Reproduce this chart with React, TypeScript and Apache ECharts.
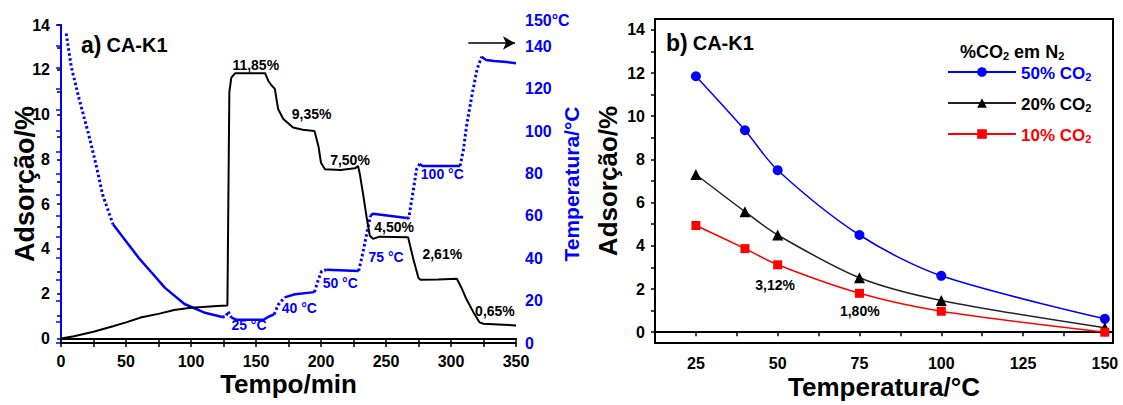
import React, { useEffect, useRef } from "react";
import * as echarts from "echarts";

const FONT = "'Liberation Sans', Arial, sans-serif";
const BLUE = "#0000ff";
const RED = "#ff0000";
const BLACK = "#000000";

// ---------- Panel a: adsorption vs time ----------
const adsTime = [0, 10, 25, 40, 50, 62, 75, 87, 100, 112, 120, 128, 128.7, 129.5, 131, 134, 157, 159.5, 162, 164.5, 167, 171, 178.5, 186, 195, 198, 200, 203, 215, 226, 228.5, 230, 232.5, 235, 237.5, 240, 245, 267, 271, 275, 276.5, 290, 304.5, 308, 312, 317, 322, 325, 340, 350];
const adsValue = [0, 0.1, 0.3, 0.55, 0.72, 0.95, 1.1, 1.27, 1.37, 1.42, 1.45, 1.48, 6, 11, 11.65, 11.85, 11.85, 11.5, 11.3, 11.15, 10.25, 9.8, 9.42, 9.32, 9.27, 8.6, 7.85, 7.56, 7.52, 7.6, 7.7, 7.3, 6.4, 5.45, 4.6, 4.45, 4.55, 4.52, 3.55, 2.7, 2.62, 2.64, 2.67, 2.27, 1.74, 1.2, 0.72, 0.66, 0.62, 0.58];

// temperature vs time (right axis)
const tempTime = [4, 8, 14, 21, 27, 32, 40, 50, 60, 70, 80, 95, 110, 124, 127, 128.5, 131, 135, 156, 160, 164, 167, 172, 180, 195, 197.5, 200.5, 204, 229, 232, 235, 238, 240, 266, 267.5, 271, 273.5, 276, 278, 307, 309.5, 312, 316, 320, 323.5, 327, 333, 343, 350];
const tempValue = [146, 130, 115, 99, 84, 70, 56, 48, 40, 33, 26, 18.4, 14.4, 12.3, 12.5, 15, 12, 11, 11, 12.5, 13.5, 18, 21.5, 23, 24, 29, 34, 34.5, 34, 42, 51, 60, 61, 59, 59, 72, 82, 84.5, 83.5, 83.5, 91, 102.5, 116.5, 129, 135, 133.5, 133, 132.5, 132];
// time ranges where the temperature trace is drawn dotted (fast ramps)
const tempDottedRanges = [[4, 40], [124, 131], [164, 172], [195, 204], [229, 238], [266, 276], [307, 323.5]];

const adsLabelText = ["11,85%", "9,35%", "7,50%", "4,50%", "2,61%", "0,65%"];
const adsLabelT = [149.8, 192.8, 222.3, 256.2, 293.3, 333.8];
const adsLabelV = [12.2, 10.02, 7.97, 4.96, 3.76, 1.22];

const tempLabelText = ["25 °C", "40 °C", "50 °C", "75 °C", "100 °C"];
const tempLabelT = [144.6, 183.3, 214.8, 250, 293.3];
const tempLabelV = [8.7, 16.6, 28.1, 40.6, 79.8];

const arrowT = [313.3, 349.2];
const arrowTemp = 141.5;

// ---------- Panel b: adsorption vs temperature ----------
const tempsB = [25, 40, 50, 75, 100, 150];
const co2_50 = [11.85, 9.35, 7.5, 4.5, 2.61, 0.62];
const co2_20 = [7.3, 5.58, 4.5, 2.52, 1.47, 0.21];
const co2_10 = [4.94, 3.87, 3.12, 1.8, 0.97, 0.0];
const seriesNamesB = ["50% CO2", "20% CO2", "10% CO2"];

const bLabelText = ["3,12%", "1,80%"];
const bLabelX = [49.2, 75.1];
const bLabelY = [2.2, 0.98];

const yTicksA = [0, 1, 2, 3, 4, 5, 6, 7, 8, 9, 10, 11, 12, 13, 14];
const yLabelsA = [0, 2, 4, 6, 8, 10, 12, 14];

function splitTemp() {
  const isDotted = (a: number, b: number) =>
    tempDottedRanges.some(([s, e]) => a >= s - 1e-9 && b <= e + 1e-9);
  const solid: any[] = [];
  const dotted: any[] = [];
  const push = (arr: any[], i: number) => {
    const last = arr[arr.length - 1];
    if (!last || last[0] !== tempTime[i] || last[1] === "-") arr.push([tempTime[i], tempValue[i]]);
  };
  for (let i = 0; i < tempTime.length - 1; i++) {
    const d = isDotted(tempTime[i], tempTime[i + 1]);
    const target = d ? dotted : solid;
    const other = d ? solid : dotted;
    push(target, i);
    target.push([tempTime[i + 1], tempValue[i + 1]]);
    const lo = other[other.length - 1];
    if (lo && lo[1] !== "-") other.push([tempTime[i], "-"]);
  }
  return { solid, dotted };
}

const bold = (size: number, color = BLACK) => ({
  fontFamily: FONT,
  fontWeight: "bold" as const,
  fontSize: size,
  color,
});

const annLabel = (color: string) => ({
  show: true,
  position: "inside",
  formatter: (p: any) => p.name,
  ...bold(14, color),
  opacity: 1,
  textBorderWidth: 0,
  textBorderColor: "transparent",
});

export default function App() {
  const ref = useRef<HTMLDivElement>(null);
  useEffect(() => {
    if (!ref.current) return;
    const chart = echarts.init(ref.current, undefined, { renderer: "svg" });
    const { solid, dotted } = splitTemp();

    const annSeries = (name: string, xi: number, yi: number, data: any[], color: string) => ({
      name,
      type: "scatter",
      xAxisIndex: xi,
      yAxisIndex: yi,
      symbolSize: 1,
      silent: true,
      itemStyle: { opacity: 1, color: "rgba(0,0,0,0)" },
      data,
      label: annLabel(color),
      z: 5,
    });

    const option: any = {
      animation: false,
      backgroundColor: "#ffffff",
      textStyle: { fontFamily: FONT },
      title: [
        {
          left: 76,
          top: 28,
          text: "{a|a)} {b|CA-K1}",
          textStyle: { rich: { a: bold(23), b: bold(20) } },
        },
        {
          left: 661,
          top: 26,
          text: "{a|b)} {b|CA-K1}",
          textStyle: { rich: { a: bold(23), b: bold(20) } },
        },
        {
          left: 955,
          top: 34,
          text: "{n|%CO}{s|2}{n| em N}{s|2}",
          textStyle: {
            rich: {
              n: { ...bold(18), lineHeight: 22, verticalAlign: "bottom" },
              s: { ...bold(11), lineHeight: 15, verticalAlign: "bottom" },
            },
          },
        },
      ],
      legend: {
        orient: "vertical",
        left: 942,
        top: 60,
        itemWidth: 68,
        itemHeight: 12,
        itemGap: 14,
        data: seriesNamesB,
        formatter: (name: string) => {
          const k = name.startsWith("50") ? "b" : name.startsWith("20") ? "k" : "r";
          return `{${k}|${name.slice(0, -1)}}{${k}s|2}`;
        },
        textStyle: {
          padding: [0, 0, 0, 0],
          rich: {
            b: { ...bold(17, BLUE), lineHeight: 20, verticalAlign: "bottom" },
            bs: { ...bold(11, BLUE), lineHeight: 14, verticalAlign: "bottom" },
            k: { ...bold(17, BLACK), lineHeight: 20, verticalAlign: "bottom" },
            ks: { ...bold(11, BLACK), lineHeight: 14, verticalAlign: "bottom" },
            r: { ...bold(17, RED), lineHeight: 20, verticalAlign: "bottom" },
            rs: { ...bold(11, RED), lineHeight: 14, verticalAlign: "bottom" },
          },
        },
      },
      grid: [
        { left: 61, top: 25, width: 455, height: 318 },
        { left: 655, top: 19, width: 458, height: 329, show: true, borderColor: BLACK, borderWidth: 2, backgroundColor: "transparent" },
      ],
      xAxis: [
        {
          gridIndex: 0,
          type: "value",
          min: 0,
          max: 350,
          interval: 25,
          position: "bottom",
          axisLine: { lineStyle: { color: BLACK, width: 2 } },
          axisTick: { length: 4, lineStyle: { color: BLACK, width: 1.5 } },
          axisLabel: {
            ...bold(16),
            margin: 10,
            formatter: (v: number) => (v % 50 === 0 ? String(v) : ""),
          },
          splitLine: { show: false },
          name: "Tempo/min",
          nameLocation: "middle",
          nameGap: 28,
          nameMoveOverlap: false,
          nameTextStyle: bold(26),
        },
        {
          gridIndex: 0,
          type: "value",
          min: 0,
          max: 350,
          interval: 25,
          position: "top",
          axisLine: { lineStyle: { color: BLACK, width: 2 } },
          axisTick: { inside: true, length: 4, lineStyle: { color: BLACK, width: 1.5 } },
          axisLabel: { show: false },
          splitLine: { show: false },
        },
        {
          gridIndex: 1,
          type: "value",
          min: 12.5,
          max: 152.5,
          interval: 12.5,
          axisLine: { lineStyle: { color: BLACK, width: 2 } },
          axisTick: { length: 4, lineStyle: { color: BLACK, width: 1.5 } },
          axisLabel: {
            ...bold(16),
            margin: 12,
            formatter: (v: number) => (v % 25 === 0 ? String(v) : ""),
          },
          splitLine: { show: false },
          name: "Temperatura/°C",
          nameLocation: "middle",
          nameGap: 31,
          nameMoveOverlap: false,
          nameTextStyle: bold(26),
        },
      ],
      yAxis: [
        {
          gridIndex: 0,
          type: "value",
          min: -0.2,
          max: 14,
          position: "left",
          axisLine: { show: true, lineStyle: { color: BLACK, width: 2 } },
          axisTick: { show: true, length: 4, customValues: yTicksA, lineStyle: { color: BLACK, width: 1.5 } },
          axisLabel: { ...bold(16), margin: 11, customValues: yLabelsA },
          splitLine: { show: false },
          name: "Adsorção/%",
          nameLocation: "middle",
          nameRotate: 90,
          nameGap: 23,
          nameMoveOverlap: false,
          nameTextStyle: bold(27),
        },
        {
          gridIndex: 0,
          type: "value",
          min: 0,
          max: 150,
          interval: 10,
          position: "right",
          axisLine: { show: true, lineStyle: { color: BLUE, width: 2 } },
          axisTick: { show: true, inside: true, length: 5, lineStyle: { color: BLUE, width: 1.5 } },
          axisLabel: {
            ...bold(16, BLUE),
            margin: 9,
            formatter: (v: number) => (v === 150 ? "{t|150°C}" : v % 20 === 0 ? String(v) : ""),
            rich: { t: { ...bold(16, BLUE), padding: [0, 0, 10, 0] } },
          },
          splitLine: { show: false },
          name: "Temperatura/°C",
          nameLocation: "middle",
          nameRotate: 90,
          nameGap: 45,
          nameMoveOverlap: false,
          nameTextStyle: bold(21, BLUE),
        },
        {
          gridIndex: 1,
          type: "value",
          min: -0.5,
          max: 14.5,
          axisLine: { show: true, lineStyle: { color: BLACK, width: 2 } },
          axisTick: { show: true, length: 4, customValues: yTicksA, lineStyle: { color: BLACK, width: 1.5 } },
          axisLabel: { ...bold(16), margin: 10, customValues: yLabelsA },
          splitLine: { show: false },
          name: "Adsorção/%",
          nameLocation: "middle",
          nameRotate: 90,
          nameGap: 34,
          nameMoveOverlap: false,
          nameTextStyle: bold(26),
        },
      ],
      series: [
        {
          name: "ads",
          type: "line",
          xAxisIndex: 0,
          yAxisIndex: 0,
          data: adsTime.map((t, i) => [t, adsValue[i]]),
          showSymbol: false,
          symbol: "none",
          lineStyle: { color: BLACK, width: 2 },
          z: 3,
        },
        {
          name: "tempSolid",
          type: "line",
          xAxisIndex: 0,
          yAxisIndex: 1,
          data: solid,
          symbol: "none",
          connectNulls: false,
          lineStyle: { color: BLUE, width: 2.5 },
          z: 2,
        },
        {
          name: "tempDotted",
          type: "line",
          xAxisIndex: 0,
          yAxisIndex: 1,
          data: dotted,
          symbol: "none",
          connectNulls: false,
          lineStyle: { color: BLUE, width: 3, type: [2.5, 2.5] },
          z: 2,
          markLine: {
            silent: true,
            symbol: ["none", "arrow"],
            symbolSize: [10, 12],
            label: { show: false },
            lineStyle: { color: BLACK, width: 1.5, type: "solid" },
            data: [[{ coord: [arrowT[0], arrowTemp] }, { coord: [arrowT[1], arrowTemp] }]],
          },
        },
        annSeries(
          "adsLabels",
          0,
          0,
          adsLabelText.map((s, i) => ({ value: [adsLabelT[i], adsLabelV[i]], name: s })),
          "#000"
        ),
        annSeries(
          "tempLabels",
          0,
          1,
          tempLabelText.map((s, i) => ({ value: [tempLabelT[i], tempLabelV[i]], name: s })),
          BLUE
        ),
        {
          name: seriesNamesB[0],
          type: "line",
          xAxisIndex: 2,
          yAxisIndex: 2,
          data: tempsB.map((t, i) => [t, co2_50[i]]),
          smooth: 0.3,
          symbol: "circle",
          symbolSize: 10,
          itemStyle: { color: BLUE },
          lineStyle: { color: BLUE, width: 1.5 },
        },
        {
          name: seriesNamesB[1],
          type: "line",
          xAxisIndex: 2,
          yAxisIndex: 2,
          data: tempsB.map((t, i) => [t, co2_20[i]]),
          smooth: 0.3,
          symbol: "triangle",
          symbolSize: 11,
          itemStyle: { color: BLACK },
          lineStyle: { color: "#222", width: 1.5 },
        },
        {
          name: seriesNamesB[2],
          type: "line",
          xAxisIndex: 2,
          yAxisIndex: 2,
          data: tempsB.map((t, i) => [t, co2_10[i]]),
          smooth: 0.3,
          symbol: "rect",
          symbolSize: 9,
          itemStyle: { color: RED },
          lineStyle: { color: RED, width: 1.5 },
        },
        annSeries(
          "bLabels",
          2,
          2,
          bLabelText.map((s, i) => ({ value: [bLabelX[i], bLabelY[i]], name: s })),
          "#000"
        ),
      ],
    };
    chart.setOption(option);
    return () => chart.dispose();
  }, []);
  return (
    <div
      ref={ref}
      style={{ position: "fixed", left: 0, top: 0, width: 1123, height: 405, background: "#fff" }}
    />
  );
}
